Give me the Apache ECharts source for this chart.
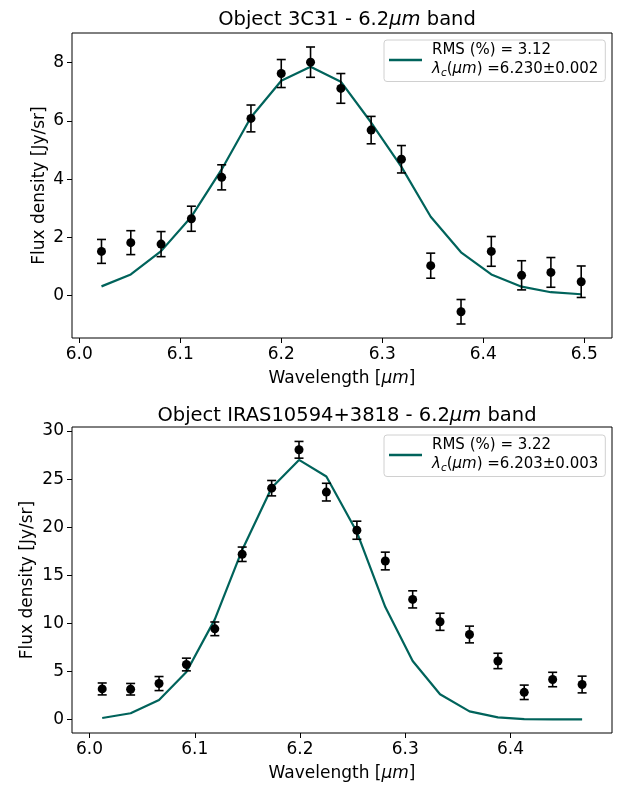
<!DOCTYPE html>
<html><head><meta charset="utf-8">
<script src="https://cdn.jsdelivr.net/npm/echarts@6/dist/echarts.min.js"></script>
<style>html,body{margin:0;padding:0;background:#fff}#c{width:623px;height:789px}</style>
</head><body><div id="c"></div>
<script>
// ---- Top panel: Object 3C31 ----
const wl1 = [6.022, 6.051, 6.081, 6.111, 6.141, 6.170, 6.200, 6.229, 6.259, 6.289, 6.319, 6.348, 6.378, 6.408, 6.438, 6.467, 6.497];
const flux1 = [1.52, 1.82, 1.77, 2.64, 4.06, 6.08, 7.62, 8.01, 7.11, 5.68, 4.68, 1.03, -0.55, 1.52, 0.70, 0.80, 0.48];
const err1 = [0.41, 0.41, 0.43, 0.43, 0.43, 0.46, 0.48, 0.52, 0.51, 0.47, 0.47, 0.43, 0.42, 0.51, 0.50, 0.51, 0.54];
const model1 = [0.32, 0.73, 1.53, 2.71, 4.33, 6.12, 7.37, 7.85, 7.34, 5.94, 4.42, 2.71, 1.49, 0.73, 0.31, 0.12, 0.05];
const xTicks1 = [6.0, 6.1, 6.2, 6.3, 6.4, 6.5];
const yTicks1 = [0, 2, 4, 6, 8];

// ---- Bottom panel: Object IRAS10594+3818 ----
const wl2 = [6.012, 6.039, 6.066, 6.092, 6.119, 6.145, 6.173, 6.199, 6.225, 6.254, 6.281, 6.307, 6.333, 6.361, 6.388, 6.413, 6.440, 6.468];
const flux2 = [3.19, 3.16, 3.75, 5.73, 9.44, 17.19, 24.06, 28.05, 23.65, 19.69, 16.49, 12.5, 10.17, 8.85, 6.1, 2.84, 4.17, 3.65];
const err2 = [0.62, 0.60, 0.73, 0.66, 0.71, 0.75, 0.80, 0.87, 0.92, 0.94, 0.92, 0.89, 0.89, 0.87, 0.80, 0.75, 0.75, 0.87];
const model2 = [0.17, 0.66, 2.04, 4.96, 10.42, 17.64, 24.1, 27.0, 25.27, 19.5, 11.7, 6.1, 2.64, 0.86, 0.24, 0.06, 0.03, 0.02];
const xTicks2 = [6.0, 6.1, 6.2, 6.3, 6.4];
const yTicks2 = [0, 5, 10, 15, 20, 25, 30];

const legend1 = '{p|}{a|RMS (%) = 3.12}\n{p|}{i|λ}{s|c}{n|(}{i|μm}{n|) =6.230±0.002}';
const legend2 = '{p|}{a|RMS (%) = 3.22}\n{p|}{i|λ}{s|c}{n|(}{i|μm}{n|) =6.203±0.003}';

const FONT = 'DejaVu Sans';
const LINE_COLOR = '#00635b';

function zip(a, b) { return a.map((v, i) => [v, b[i]]); }
function zip3(a, b, c) { return a.map((v, i) => [v, b[i], c[i]]); }

function errRender(params, api) {
  const x = api.value(0), y = api.value(1), e = api.value(2);
  const t = api.coord([x, y + e]);
  const b = api.coord([x, y - e]);
  const w = 4.5;
  const st = { stroke: '#000', lineWidth: 1.6 };
  return { type: 'group', children: [
    { type: 'line', shape: { x1: t[0], y1: t[1], x2: b[0], y2: b[1] }, style: st },
    { type: 'line', shape: { x1: t[0] - w, y1: t[1], x2: t[0] + w, y2: t[1] }, style: st },
    { type: 'line', shape: { x1: b[0] - w, y1: b[1], x2: b[0] + w, y2: b[1] }, style: st }
  ]};
}

const richTitle = {
  n: { fontFamily: FONT, fontSize: 19.5, color: '#000', fontWeight: 'normal' },
  i: { fontFamily: FONT, fontSize: 19.5, color: '#000', fontStyle: 'italic', fontWeight: 'normal' }
};
const richAxis = {
  n: { fontFamily: FONT, fontSize: 17, color: '#000' },
  i: { fontFamily: FONT, fontSize: 17, color: '#000', fontStyle: 'italic' }
};
const richLegend = {
  p: { width: 5 },
  a: { fontFamily: FONT, fontSize: 15, color: '#000', lineHeight: 19 },
  n: { fontFamily: FONT, fontSize: 15, color: '#000', lineHeight: 19 },
  i: { fontFamily: FONT, fontSize: 15, color: '#000', fontStyle: 'italic', lineHeight: 19 },
  s: { fontFamily: FONT, fontSize: 10.5, color: '#000', fontStyle: 'italic', padding: [7, 0, 0, 0] }
};

function xAxisCfg(idx, min, max, ticks) {
  return {
    type: 'value', gridIndex: idx, min: min, max: max,
    axisLine: { show: false, onZero: false },
    splitLine: { show: false },
    axisTick: { show: true, inside: false, length: 5, lineStyle: { color: '#000', width: 1 }, customValues: ticks },
    axisLabel: { customValues: ticks, formatter: v => v.toFixed(1), fontFamily: FONT, fontSize: 17, color: '#000', margin: 8 },
    name: '{n|Wavelength [}{i|μm}{n|]}', nameLocation: 'middle', nameGap: 32, nameMoveOverlap: false,
    nameTextStyle: { rich: richAxis }
  };
}
function yAxisCfg(idx, min, max, ticks, gap) {
  return {
    type: 'value', gridIndex: idx, min: min, max: max,
    axisLine: { show: false, onZero: false },
    splitLine: { show: false },
    axisTick: { show: true, inside: false, length: 5, lineStyle: { color: '#000', width: 1 }, customValues: ticks },
    axisLabel: { customValues: ticks, formatter: v => String(v), fontFamily: FONT, fontSize: 17, color: '#000', margin: 8 },
    name: 'Flux density [Jy/sr]', nameLocation: 'middle', nameGap: gap, nameMoveOverlap: false,
    nameTextStyle: { fontFamily: FONT, fontSize: 17, color: '#000' }
  };
}

const chart = echarts.init(document.getElementById('c'), null, { renderer: 'canvas' });
chart.setOption({
  backgroundColor: '#fff',
  animation: false,
  title: [
    { text: '{n|Object 3C31 - 6.2}{i|μm}{n| band}', left: 342, top: 5, textAlign: 'center', textStyle: { rich: richTitle } },
    { text: '{n|Object IRAS10594+3818 - 6.2}{i|μm}{n| band}', left: 342, top: 401, textAlign: 'center', textStyle: { rich: richTitle } }
  ],
  grid: [
    { left: 72, right: 11, top: 33, height: 305, show: true, borderColor: '#000', borderWidth: 1, backgroundColor: 'transparent' },
    { left: 72, right: 11, top: 427, height: 306, show: true, borderColor: '#000', borderWidth: 1, backgroundColor: 'transparent' }
  ],
  xAxis: [ xAxisCfg(0, 5.9928, 6.5275, xTicks1), xAxisCfg(1, 5.9833, 6.4964, xTicks2) ],
  yAxis: [ yAxisCfg(0, -1.45, 9.01, yTicks1, 24), yAxisCfg(1, -1.39, 30.42, yTicks2, 36) ],
  legend: [
    { data: ['fit1'], left: 384, top: 40, orient: 'vertical', icon: 'rect', itemWidth: 33, itemHeight: 2.5,
      padding: [3, 7, 3, 5], borderColor: '#d0d0d0', borderWidth: 1, borderRadius: 3, backgroundColor: 'rgba(255,255,255,0.8)',
      formatter: () => legend1, textStyle: { rich: richLegend } },
    { data: ['fit2'], left: 384, top: 435, orient: 'vertical', icon: 'rect', itemWidth: 33, itemHeight: 2.5,
      padding: [3, 7, 3, 5], borderColor: '#d0d0d0', borderWidth: 1, borderRadius: 3, backgroundColor: 'rgba(255,255,255,0.8)',
      formatter: () => legend2, textStyle: { rich: richLegend } }
  ],
  series: [
    { name: 'fit1', type: 'line', xAxisIndex: 0, yAxisIndex: 0, data: zip(wl1, model1), showSymbol: false, symbol: 'none',
      lineStyle: { color: LINE_COLOR, width: 2.2 }, itemStyle: { color: LINE_COLOR }, z: 2 },
    { name: 'err1', type: 'custom', xAxisIndex: 0, yAxisIndex: 0, data: zip3(wl1, flux1, err1), renderItem: errRender, z: 3 },
    { name: 'pts1', type: 'scatter', xAxisIndex: 0, yAxisIndex: 0, data: zip(wl1, flux1), symbolSize: 9, itemStyle: { color: '#000', opacity: 1 }, z: 4 },
    { name: 'fit2', type: 'line', xAxisIndex: 1, yAxisIndex: 1, data: zip(wl2, model2), showSymbol: false, symbol: 'none',
      lineStyle: { color: LINE_COLOR, width: 2.2 }, itemStyle: { color: LINE_COLOR }, z: 2 },
    { name: 'err2', type: 'custom', xAxisIndex: 1, yAxisIndex: 1, data: zip3(wl2, flux2, err2), renderItem: errRender, z: 3 },
    { name: 'pts2', type: 'scatter', xAxisIndex: 1, yAxisIndex: 1, data: zip(wl2, flux2), symbolSize: 9, itemStyle: { color: '#000', opacity: 1 }, z: 4 }
  ]
});
</script>
</body></html>
